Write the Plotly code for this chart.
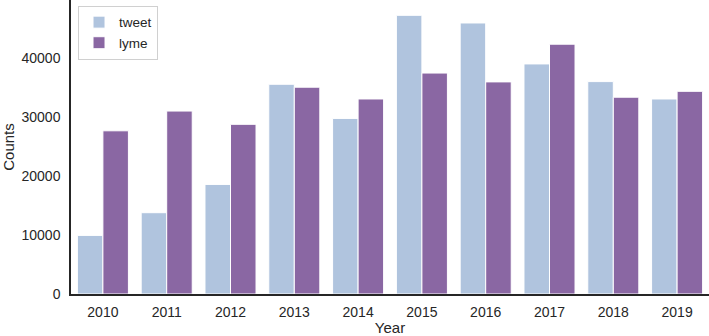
import plotly.graph_objects as go

years = ["2010", "2011", "2012", "2013", "2014", "2015", "2016", "2017", "2018", "2019"]
tweet = [9950, 13800, 18600, 35600, 29800, 47300, 46000, 39050, 36050, 33100]
lyme = [27700, 31050, 28800, 35100, 33100, 37500, 36000, 42400, 33400, 34400]

fig = go.Figure()
fig.add_trace(go.Bar(x=years, y=tweet, name="tweet", marker=dict(color="#b0c4de", line=dict(color="white", width=1))))
fig.add_trace(go.Bar(x=years, y=lyme, name="lyme", marker=dict(color="#8a67a3", line=dict(color="white", width=1))))

font = dict(family="Liberation Sans, Arial, sans-serif", size=14, color="#262626")
fig.update_layout(
    width=709, height=336,
    margin=dict(l=71, r=0, t=0, b=42),
    paper_bgcolor="white", plot_bgcolor="white",
    font=font,
    barmode="group", bargap=0.2, bargroupgap=0,
    showlegend=True,
    legend=dict(x=0.011, y=0.98, xanchor="left", yanchor="top",
                bordercolor="#d0d0d0", borderwidth=1, bgcolor="rgba(255,255,255,0.8)",
                font=dict(size=13.5, color="#262626"), tracegroupgap=0, itemwidth=30),
)
fig.update_xaxes(
    range=[-0.5, 9.5], showline=True, linecolor="#262626", linewidth=1.5,
    ticks="", showgrid=False, zeroline=False, ticklabelstandoff=4, automargin=False,
    title=dict(text="Year", font=dict(size=15)),
)
fig.update_yaxes(
    range=[0, 49900], showline=True, linecolor="#262626", linewidth=1.5,
    ticks="", showgrid=False, zeroline=False, tickvals=[0, 10000, 20000, 30000, 40000],
    ticktext=["0", "10000", "20000", "30000", "40000"], ticklabelstandoff=6,
    title=dict(text="Counts", standoff=8, font=dict(size=15)),
)
fig.write_html("out.html", post_script="document.body.style.margin='0';",
               config={"displayModeBar": False})
